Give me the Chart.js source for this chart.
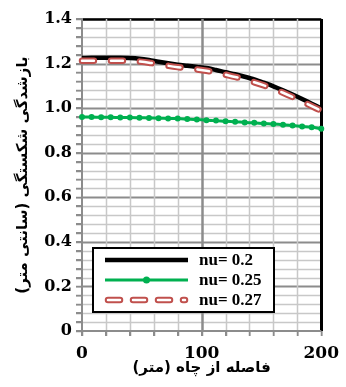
<!DOCTYPE html>
<html><head><meta charset="utf-8">
<script src="https://cdn.jsdelivr.net/npm/chart.js@4"></script>
<style>html,body{margin:0;padding:0;background:#fff;}canvas{position:absolute;left:0;top:0;}</style>
</head><body>
<canvas id="c" width="346" height="387"></canvas>
<script>
// ---- data ----
const distances = [0,8,16,24,32,40,48,56,64,72,80,88,96,104,112,120,128,136,144,152,160,168,176,184,192,200];
const nu020 = [1.225,1.226,1.226,1.226,1.226,1.225,1.222,1.216,1.208,1.201,1.195,1.190,1.185,1.180,1.171,1.161,1.152,1.141,1.129,1.114,1.098,1.080,1.061,1.041,1.020,0.998];
const nu025 = [0.960,0.960,0.959,0.959,0.958,0.958,0.957,0.956,0.955,0.954,0.953,0.951,0.949,0.946,0.944,0.941,0.939,0.936,0.934,0.931,0.929,0.926,0.922,0.918,0.914,0.908];
const nu027 = [1.213,1.213,1.213,1.213,1.213,1.212,1.209,1.204,1.197,1.190,1.184,1.179,1.174,1.168,1.160,1.150,1.140,1.129,1.116,1.102,1.086,1.069,1.050,1.030,1.009,0.988];
const seriesLabels = ['nu= 0.2','nu= 0.25','nu= 0.27'];
const yTickLabels = ['0','0.2','0.4','0.6','0.8','1.0','1.2','1.4'];
const xTickLabels = ['0','100','200'];
const xTitle = 'فاصله از چاه (متر)\u200F';
const yTitle = 'بازشدگی شکستگی (سانتی متر)\u200F';

const toPts = arr => distances.map((d,i)=>({x:d,y:arr[i]}));

const RED = '#c0504d', GREEN = '#00b050';
const MINOR = '#c8c8c8', MAJOR = '#8c8c8c';

function yLineStyle(i){ return i === 35 ? ['#000',2.5] : (i % 5 === 0 ? [MAJOR,2] : [MINOR,1.5]); }
function xLineStyle(i){ return i === 10 ? ['#000',3] : (i === 5 ? [MAJOR,2.5] : [MINOR,1.5]); }

// grid from the library's scale ticks, painted under the curves (curves repainted on top)
const gridPlugin = {
  id:'gridFromScales',
  afterDatasetsDraw(chart){
    const {ctx, chartArea:a, scales} = chart;
    const xs = scales.x, ys = scales.y;
    const seg = (x1,y1,x2,y2,c,w)=>{ctx.strokeStyle=c;ctx.lineWidth=w;ctx.beginPath();ctx.moveTo(x1,y1);ctx.lineTo(x2,y2);ctx.stroke();};
    ctx.save();
    ctx.globalAlpha = 1; ctx.globalCompositeOperation = 'source-over';
    ctx.setLineDash([]); ctx.lineDashOffset = 0; ctx.lineCap='butt';
    // plot background so redrawn curves sit on a clean grid
    ctx.fillStyle = '#fff'; ctx.fillRect(a.left, a.top, a.right-a.left, a.bottom-a.top);
    ys.ticks.forEach((t,i)=>{
      const p = Math.round(ys.getPixelForValue(t.value)) + 0.5;
      const [c,w] = yLineStyle(i);
      if (i > 0) seg(a.left, p, a.right, p, c, w);
      seg(a.left-6, p, a.left, p, MAJOR, 1.5);
    });
    xs.ticks.forEach((t,i)=>{
      const p = Math.round(xs.getPixelForValue(t.value)) + 0.5;
      const [c,w] = xLineStyle(i);
      if (i > 0) seg(p, a.top, p, a.bottom, c, w);
      seg(p, a.bottom, p, a.bottom+5, MAJOR, 1.5);
    });
    seg(a.left, a.top-1, a.left, a.bottom+1, MAJOR, 2);
    seg(a.left-1, a.bottom, a.right, a.bottom, MAJOR, 2);
    ctx.restore();
    // repaint the datasets through their own controllers, back to front
    const metas = chart.getSortedVisibleDatasetMetas();
    for (let i = metas.length - 1; i >= 0; i--) {
      ctx.save();
      metas[i].controller.draw();
      ctx.restore();
    }
  }
};

const legendPlugin = {
  id:'boxLegend',
  afterDatasetsDraw(chart){
    const ctx = chart.ctx;
    const x0=93, y0=248, w=181, h=64;
    ctx.save();
    ctx.direction='ltr';
    ctx.setLineDash([]);
    ctx.fillStyle='#fff'; ctx.fillRect(x0,y0,w,h);
    ctx.strokeStyle='#000'; ctx.lineWidth=2; ctx.strokeRect(x0,y0,w,h);
    const sx1=105, sx2=188, rows=[260,280,300];
    ctx.lineCap='butt';
    ctx.strokeStyle='#000'; ctx.lineWidth=4.5;
    ctx.beginPath(); ctx.moveTo(sx1,rows[0]); ctx.lineTo(sx2,rows[0]); ctx.stroke();
    ctx.strokeStyle=GREEN; ctx.lineWidth=3;
    ctx.beginPath(); ctx.moveTo(sx1,rows[1]); ctx.lineTo(sx2,rows[1]); ctx.stroke();
    ctx.fillStyle=GREEN; ctx.beginPath(); ctx.arc((sx1+sx2)/2,rows[1],3.5,0,Math.PI*2); ctx.fill();
    ctx.lineCap='round';
    ctx.strokeStyle=RED; ctx.lineWidth=6.5; ctx.setLineDash([12,13]);
    ctx.beginPath(); ctx.moveTo(sx1+3,rows[2]); ctx.lineTo(sx2-3,rows[2]); ctx.stroke();
    ctx.strokeStyle='#fff'; ctx.lineWidth=2.5;
    ctx.beginPath(); ctx.moveTo(sx1+3,rows[2]); ctx.lineTo(sx2-3,rows[2]); ctx.stroke();
    ctx.setLineDash([]);
    ctx.fillStyle='#000'; ctx.font='bold 17px "Liberation Serif"';
    ctx.textAlign='left'; ctx.textBaseline='middle';
    seriesLabels.forEach((t,i)=>ctx.fillText(t,199,rows[i]+1));
    ctx.restore();
  }
};

new Chart(document.getElementById('c'),{
  type:'line',
  data:{datasets:[
    {label:seriesLabels[0],data:toPts(nu020),borderColor:'#000',backgroundColor:'rgba(0,0,0,0)',fill:false,borderWidth:4.5,pointRadius:0,tension:0.3,order:4},
    {label:seriesLabels[1],data:toPts(nu025),borderColor:GREEN,backgroundColor:'rgba(0,0,0,0)',pointBackgroundColor:GREEN,fill:false,borderWidth:3,pointRadius:3,pointBorderWidth:0,tension:0.3,order:3},
    {label:seriesLabels[2],data:toPts(nu027),borderColor:RED,backgroundColor:'rgba(0,0,0,0)',fill:false,borderWidth:6.5,borderDash:[12,17],borderCapStyle:'round',pointRadius:0,tension:0.3,order:2},
    {label:'inner',data:toPts(nu027),borderColor:'#fff',backgroundColor:'rgba(0,0,0,0)',fill:false,borderWidth:2.5,borderDash:[12,17],borderCapStyle:'round',pointRadius:0,tension:0.3,order:1}
  ]},
  options:{
    responsive:false, animation:false,
    layout:{padding:{left:0,right:2,top:19,bottom:0}},
    plugins:{legend:{display:false},tooltip:{enabled:false}},
    scales:{
      x:{type:'linear',min:0,max:200,
        afterFit:(s)=>{s.height=56;},
        ticks:{stepSize:20,autoSkip:false,maxRotation:0,padding:7,color:'#000',
          font:{family:'"DejaVu Serif"',weight:'bold',size:17},
          callback:(v,i)=>(i%5===0?xTickLabels[i/5]:'')},
        grid:{tickLength:5,tickColor:MAJOR,color:MINOR,lineWidth:1.5},
        border:{display:true,color:MAJOR,width:2},
        title:{display:true,text:xTitle,color:'#000',padding:{top:0,bottom:10},
          font:{family:'"DejaVu Sans"',weight:'bold',size:15}}
      },
      y:{type:'linear',min:0,max:1.4,
        afterFit:(s)=>{s.width=82;},
        ticks:{stepSize:0.04,autoSkip:false,maxTicksLimit:100,padding:4,color:'#000',
          font:{family:'"DejaVu Serif"',weight:'bold',size:16},
          callback:(v,i)=>(i%5===0?yTickLabels[i/5]:'')},
        grid:{tickLength:6,tickColor:MAJOR,color:MINOR,lineWidth:1.5},
        border:{display:true,color:MAJOR,width:2},
        title:{display:true,text:yTitle,color:'#000',padding:{top:14,bottom:0},
          font:{family:'"DejaVu Sans"',weight:'bold',size:15}}
      }
    }
  },
  plugins:[gridPlugin, legendPlugin]
});
</script>
</body></html>
